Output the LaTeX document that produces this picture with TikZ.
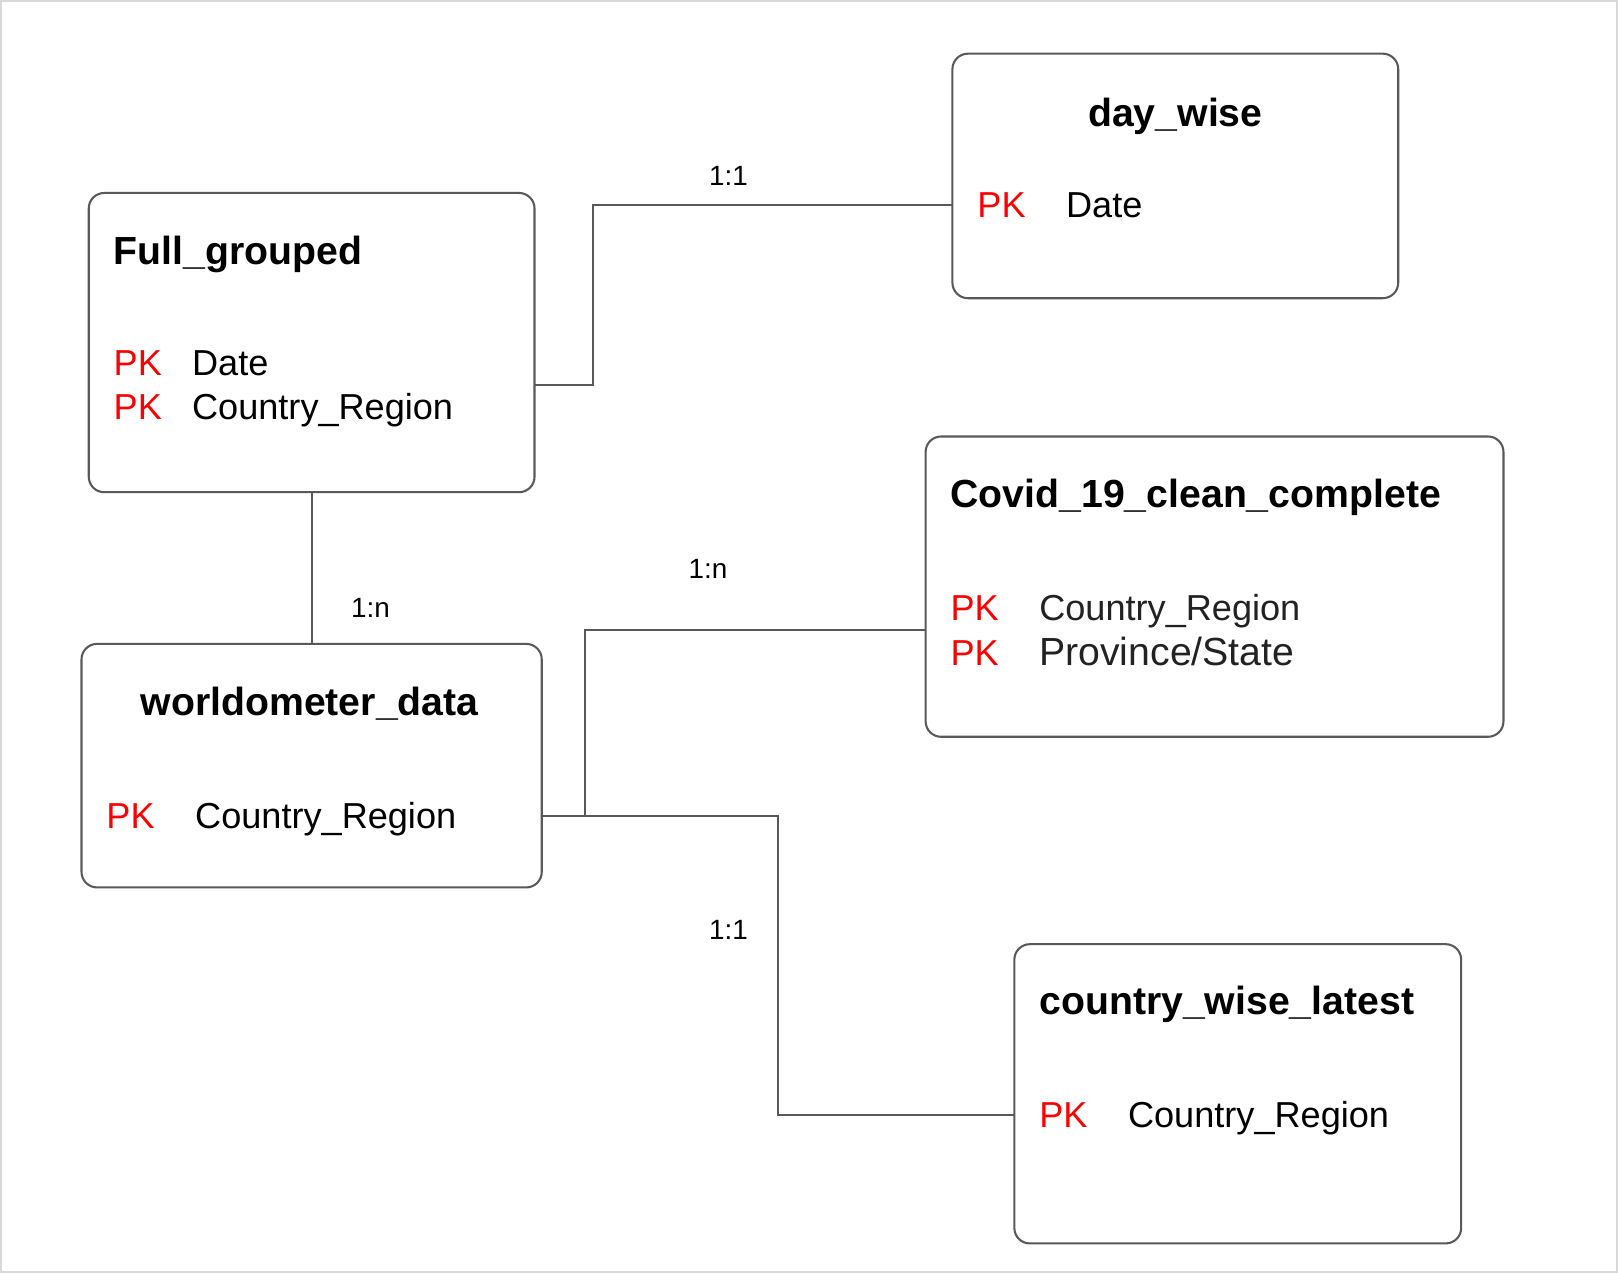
\documentclass[tikz,border=0pt]{standalone}
\usepackage{fontspec}
\setmainfont{Liberation Sans}
\usetikzlibrary{calc}
\definecolor{linegray}{HTML}{595959}
\definecolor{framegray}{HTML}{D9D9D9}
\definecolor{textgray}{HTML}{222222}
\begin{document}
\begin{tikzpicture}[x=1pt,y=-1pt,
                     table node/.style={rectangle,draw=linegray,line width=2pt,rounded corners=15pt,inner sep=0pt,outer sep=0pt},
                     title node/.style={inner sep=0pt,anchor=base west,font=\fontsize{38}{44}\selectfont\bfseries},
                     key node/.style={inner sep=0pt,anchor=base west,text=red,font=\fontsize{35}{42}\selectfont},
                     field node/.style={inner sep=0pt,anchor=base west,font=\fontsize{35}{42}\selectfont},
                     card label/.style={inner sep=0pt,font=\fontsize{27}{32}\selectfont},
                     link/.style={draw=linegray,line width=2pt}
                    ]
   \useasboundingbox (0,0) rectangle (1568,1234);
   \draw[framegray,line width=2pt] (1,1) rectangle (1567,1233);
   % tables
   \node[table node,minimum width=432pt,minimum height=290pt] (fg) at (302,332) {};
   \node[table node,minimum width=432pt,minimum height=237pt] (dw) at (1139,170.5) {};
   \node[table node,minimum width=560pt,minimum height=291pt] (cv) at (1177,568.5) {};
   \node[table node,minimum width=446pt,minimum height=236pt] (wd) at (302,742) {};
   \node[table node,minimum width=433pt,minimum height=290pt] (cw) at (1199.5,1060) {};
   % titles
   \node[title node] (fgt) at (110,256) {Full\_grouped};
   \node[title node,anchor=base] (dwt) at (1139,123) {day\_wise};
   \node[title node] (cvt) at (921,492) {Covid\_19\_clean\_complete};
   \node[title node,anchor=base] (wdt) at (300,693) {worldometer\_data};
   \node[title node] (cwt) at (1007,983) {country\_wise\_latest};
   % keys
   \node[key node] (fgk1) at (110,364) {PK};
   \node[field node] (fgf1) at (186,364) {Date};
   \node[key node] (fgk2) at (110,407) {PK};
   \node[field node] (fgf2) at (186,407) {Country\_Region};
   \node[key node] (dwk) at (947,211) {PK};
   \node[field node] (dwf) at (1033,211) {Date};
   \node[key node] (cvk1) at (921,601) {PK};
   \node[field node,text=textgray] (cvf1) at (1007,601) {Country\_Region};
   \node[key node] (cvk2) at (921,645) {PK};
   \node[field node,text=textgray,font=\fontsize{38}{44}\selectfont] (cvf2) at (1007,645) {Province/State};
   \node[key node] (wdk) at (103,803) {PK};
   \node[field node] (wdf) at (189,803) {Country\_Region};
   \node[key node] (cwk) at (1007,1093) {PK};
   \node[field node] (cwf) at (1093,1093) {Country\_Region};
   \coordinate (fgmid) at ($(fgk1)!0.5!(fgk2)$);
   \coordinate (cvmid) at ($(cvk1)!0.5!(cvk2)$);
   % relations
   \draw[link] (fg.east |- fgmid) -- ++(57,0) |- (dw.west |- dwk);
   \draw[link] (fg.south) -- (wd.north);
   \draw[link] (wd.east |- wdk) -- ++(42,0) |- (cv.west |- cvmid);
   \draw[link] (wd.east |- wdk) -- ++(229,0) |- (cw.west |- cwk);
   \node[card label] (r1) at (706,170) {1:1};
   \node[card label] (r2) at (359,589) {1:n};
   \node[card label] (r3) at (686,551) {1:n};
   \node[card label] (r4) at (706,901) {1:1};
\end{tikzpicture}
\end{document}
